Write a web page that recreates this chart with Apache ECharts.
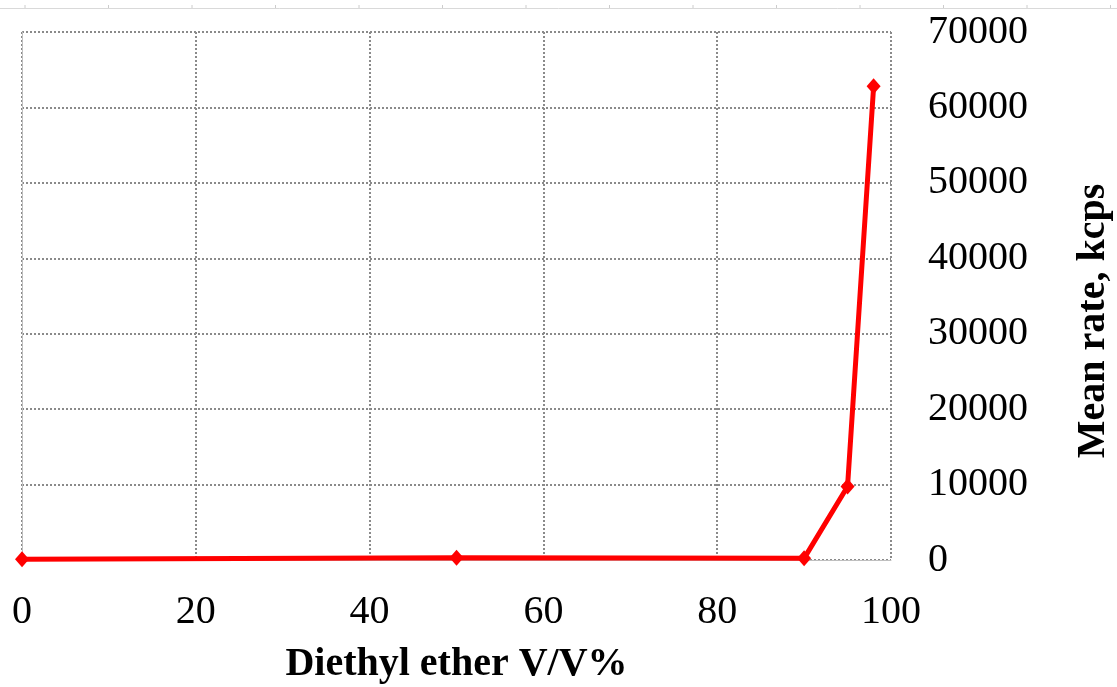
<!DOCTYPE html>
<html>
<head>
<meta charset="utf-8">
<script src="https://cdn.jsdelivr.net/npm/echarts@6/dist/echarts.min.js"></script>
<style>
  html, body { margin: 0; padding: 0; background: #ffffff; }
  #chart { width: 1117px; height: 687px; }
</style>
</head>
<body>
<div id="chart"></div>
<script>
// Diethyl ether fraction (V/V%) and measured mean count rate (kcps)
const etherPercent = [0, 50, 90, 95, 98];
const meanRate = [100, 300, 220, 9750, 62800];
const xTicks = [0, 20, 40, 60, 80, 100];
const yTicks = [0, 10000, 20000, 30000, 40000, 50000, 60000, 70000];

const serif = '"Liberation Serif", "Times New Roman", serif';
const gridDots = { color: '#8a8a8a', width: 2, type: [2, 2] };

const chart = echarts.init(document.getElementById('chart'));

// thin ruler strip along the top edge
const rulerTicks = [];
for (let x = 25; x < 1117; x += 83.5) {
  rulerTicks.push({
    type: 'line', silent: true,
    shape: { x1: x, y1: 5, x2: x, y2: 8 },
    style: { stroke: '#cccccc', lineWidth: 1 }
  });
}

chart.setOption({
  animation: false,
  backgroundColor: '#ffffff',
  grid: { left: 22, right: 226, top: 32, bottom: 127, outerBoundsMode: 'none', containLabel: false },
  graphic: [
    {
      type: 'line', silent: true,
      shape: { x1: 0, y1: 8.5, x2: 1117, y2: 8.5 },
      style: { stroke: '#d9d9d9', lineWidth: 1 }
    }
  ].concat(rulerTicks),
  xAxis: {
    type: 'value',
    min: xTicks[0],
    max: xTicks[xTicks.length - 1],
    interval: xTicks[1] - xTicks[0],
    name: 'Diethyl ether V/V%',
    nameLocation: 'middle',
    nameGap: 85,
    nameTextStyle: { fontFamily: serif, fontSize: 40, fontWeight: 'bold', color: '#000' },
    axisLine: { show: true, lineStyle: { color: '#bfbfbf', width: 1 } },
    axisTick: { show: false },
    axisLabel: { fontFamily: serif, fontSize: 40, color: '#000', margin: 32, formatter: v => String(v) },
    splitLine: { show: true, lineStyle: gridDots }
  },
  yAxis: {
    type: 'value',
    position: 'right',
    min: yTicks[0],
    max: yTicks[yTicks.length - 1],
    interval: yTicks[1] - yTicks[0],
    name: 'Mean rate, kcps',
    nameLocation: 'middle',
    nameRotate: 90,
    nameGap: 183,
    nameTextStyle: { fontFamily: serif, fontSize: 40, fontWeight: 'bold', color: '#000', padding: [0, 50, 0, 0] },
    axisLine: { show: true, lineStyle: { color: '#bfbfbf', width: 1 } },
    axisTick: { show: false },
    axisLabel: { fontFamily: serif, fontSize: 40, color: '#000', margin: 37, formatter: v => String(v) },
    splitLine: { show: true, lineStyle: gridDots }
  },
  series: [{
    type: 'line',
    data: etherPercent.map((x, i) => [x, meanRate[i]]),
    symbol: 'diamond',
    symbolSize: [14, 16],
    itemStyle: { color: '#ff0000' },
    lineStyle: { color: '#ff0000', width: 5 }
  }]
});
</script>
</body>
</html>
